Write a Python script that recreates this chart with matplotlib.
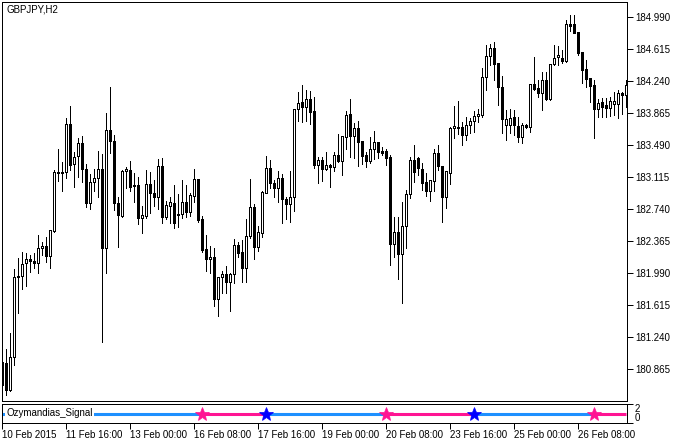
import numpy as np
import matplotlib.pyplot as plt

plt.rcParams['font.family'] = ['Liberation Sans', 'DejaVu Sans']

chart_title = 'GBPJPY,H2'
indicator_name = 'Ozymandias_Signal'

# GBPJPY H2 bars, oldest first
opens = [180.95, 180.94, 180.62, 181.01, 181.95, 181.96, 182.11, 182.16, 182.14, 182.11,
         182.29, 182.31, 182.20, 182.49, 183.17, 183.17, 183.18, 183.74, 183.27, 183.37,
         183.52, 183.21, 182.82, 183.06, 183.11, 183.21, 182.29, 183.67, 183.54, 182.82,
         182.66, 183.19, 183.20, 183.03, 183.03, 182.64, 182.66, 183.04, 182.93, 182.89,
         183.25, 182.65, 182.78, 182.82, 182.69, 182.69, 182.83, 182.71, 182.90, 183.10,
         182.63, 182.28, 182.16, 182.18, 181.69, 181.95, 181.98, 181.89, 181.98, 182.32,
         182.24, 182.05, 182.43, 182.77, 182.30, 182.46, 182.93, 183.23, 183.05, 182.99,
         183.11, 182.86, 182.80, 182.89, 183.92, 184.00, 183.94, 184.04, 183.89, 183.26,
         183.32, 183.21, 183.26, 183.24, 183.38, 183.31, 183.59, 183.86, 183.60, 183.70,
         183.54, 183.38, 183.31, 183.45, 183.53, 183.43, 183.43, 183.36, 182.34, 182.48,
         182.22, 182.55, 182.92, 183.32, 183.34, 183.22, 183.06, 182.96, 183.07, 183.40,
         183.25, 182.89, 183.17, 183.70, 183.71, 183.71, 183.61, 183.73, 183.78, 183.84,
         183.85, 184.29, 184.54, 184.63, 184.46, 184.18, 183.73, 183.73, 183.82, 183.72,
         183.59, 183.73, 183.71, 184.21, 184.16, 184.10, 184.26, 184.04, 184.45, 184.53,
         184.52, 184.48, 184.91, 184.91, 184.82, 184.58, 184.39, 184.28, 184.20, 183.92,
         184.00, 183.96, 183.93, 183.98, 183.98, 184.10, 184.08]
highs = [181.00, 181.11, 181.29, 182.04, 182.17, 182.24, 182.23, 182.21, 182.23, 182.44,
         182.36, 182.42, 182.50, 183.20, 183.45, 183.30, 183.81, 183.95, 183.41, 183.58,
         183.60, 183.27, 183.16, 183.21, 183.43, 183.39, 183.87, 184.18, 183.61, 182.89,
         183.20, 183.24, 183.31, 183.17, 183.12, 182.78, 183.20, 183.18, 183.09, 183.33,
         183.34, 182.84, 182.89, 183.03, 182.92, 183.09, 183.03, 182.93, 183.21, 183.10,
         182.66, 182.44, 182.31, 182.29, 181.95, 182.02, 182.08, 181.99, 182.39, 182.36,
         182.38, 182.63, 183.10, 182.80, 182.55, 182.96, 183.37, 183.32, 183.09, 183.19,
         183.16, 182.89, 183.19, 183.92, 184.12, 184.20, 184.14, 184.13, 184.06, 183.36,
         183.36, 183.41, 183.27, 183.41, 183.63, 183.60, 183.89, 184.04, 183.75, 183.78,
         183.54, 183.41, 183.59, 183.66, 183.53, 183.47, 183.45, 183.38, 182.65, 182.65,
         182.83, 182.97, 183.36, 183.50, 183.36, 183.29, 183.17, 183.09, 183.45, 183.50,
         183.25, 183.19, 183.71, 183.95, 184.01, 183.77, 183.82, 183.81, 183.89, 183.92,
         184.40, 184.67, 184.68, 184.70, 184.46, 184.30, 183.91, 183.92, 183.91, 183.82,
         183.75, 183.74, 184.21, 184.53, 184.26, 184.35, 184.35, 184.45, 184.67, 184.66,
         184.61, 184.96, 185.02, 185.02, 184.82, 184.58, 184.49, 184.28, 184.26, 184.04,
         184.05, 184.05, 184.06, 184.12, 184.14, 184.12, 184.26]
lows = [180.60, 180.57, 180.61, 180.92, 181.53, 181.81, 181.84, 182.01, 182.05, 182.00,
        182.21, 182.12, 182.05, 182.48, 183.07, 182.96, 183.11, 183.20, 183.00, 183.12,
        183.06, 182.77, 182.75, 182.96, 182.89, 181.19, 182.00, 183.40, 182.73, 182.30,
        182.65, 182.99, 182.96, 182.83, 182.57, 182.46, 182.64, 182.70, 182.78, 182.75,
        182.58, 182.63, 182.58, 182.52, 182.54, 182.64, 182.65, 182.66, 182.83, 182.59,
        182.24, 182.02, 182.00, 181.61, 181.49, 181.76, 181.76, 181.55, 181.88, 182.18,
        181.89, 181.89, 182.41, 182.16, 182.25, 182.42, 182.93, 182.99, 182.89, 182.83,
        182.58, 182.63, 182.59, 182.72, 183.78, 183.77, 183.78, 183.74, 183.23, 183.05,
        183.07, 183.20, 183.00, 183.19, 183.30, 183.14, 183.45, 183.36, 183.34, 183.25,
        183.27, 183.24, 183.29, 183.33, 183.34, 183.38, 183.26, 182.09, 182.18, 181.93,
        181.64, 182.29, 182.87, 183.06, 183.14, 182.97, 182.90, 182.84, 182.96, 183.20,
        182.59, 182.76, 183.04, 183.58, 183.63, 183.50, 183.55, 183.64, 183.65, 183.77,
        183.82, 184.14, 184.43, 184.26, 183.96, 183.64, 183.55, 183.64, 183.61, 183.53,
        183.52, 183.70, 183.65, 184.14, 184.06, 183.91, 184.02, 184.02, 184.43, 184.43,
        184.46, 184.47, 184.83, 184.81, 184.55, 184.22, 184.18, 184.00, 183.58, 183.82,
        183.82, 183.82, 183.84, 183.85, 183.81, 183.86, 183.94]
closes = [180.68, 180.62, 181.01, 181.95, 181.96, 182.10, 182.16, 182.14, 182.11, 182.29,
          182.31, 182.20, 182.50, 183.18, 183.18, 183.18, 183.74, 183.26, 183.36, 183.52,
          183.21, 182.82, 183.06, 183.11, 183.21, 182.29, 183.67, 183.54, 182.82, 182.68,
          183.19, 183.21, 183.00, 183.02, 182.64, 182.68, 183.04, 182.93, 182.89, 183.25,
          182.65, 182.79, 182.83, 182.58, 182.68, 182.83, 182.71, 182.91, 183.10, 182.62,
          182.27, 182.16, 182.18, 181.69, 181.95, 181.98, 181.89, 181.98, 182.32, 182.23,
          182.05, 182.43, 182.77, 182.30, 182.48, 182.95, 183.23, 183.05, 182.99, 183.11,
          182.86, 182.80, 182.89, 183.92, 183.99, 183.94, 184.04, 183.88, 183.26, 183.32,
          183.21, 183.26, 183.24, 183.38, 183.31, 183.60, 183.85, 183.60, 183.70, 183.53,
          183.37, 183.31, 183.45, 183.53, 183.41, 183.40, 183.34, 182.34, 182.48, 182.22,
          182.55, 182.92, 183.32, 183.18, 183.23, 183.05, 182.96, 183.09, 183.40, 183.25,
          182.89, 183.19, 183.70, 183.72, 183.70, 183.61, 183.73, 183.78, 183.84, 183.86,
          184.29, 184.54, 184.63, 184.45, 184.18, 183.80, 183.80, 183.81, 183.73, 183.59,
          183.73, 183.71, 184.21, 184.15, 184.10, 184.26, 184.04, 184.45, 184.52, 184.55,
          184.48, 184.91, 184.89, 184.81, 184.57, 184.37, 184.27, 184.19, 183.92, 183.99,
          183.94, 183.93, 184.01, 184.01, 184.10, 184.08, 184.20]

price_ticks = [184.990, 184.615, 184.240, 183.865, 183.490, 183.115,
               182.740, 182.365, 181.990, 181.615, 181.240, 180.865]
time_labels = ['10 Feb 2015', '11 Feb 16:00', '13 Feb 00:00', '16 Feb 08:00', '17 Feb 16:00',
               '19 Feb 00:00', '20 Feb 08:00', '23 Feb 16:00', '25 Feb 00:00', '26 Feb 08:00']
time_label_bars = [0, 16, 32, 48, 64, 80, 96, 112, 128, 144]

# signal: state at the first bar, then the bars where it flips
signal_first = 'buy'
signal_bars = [50, 66, 96, 118, 148]
signal_kinds = ['sell', 'buy', 'sell', 'buy', 'sell']

line_colors = {'buy': '#1E90FF', 'sell': '#FF1493'}
star_colors = {'buy': '#0000FF', 'sell': '#FF1493'}

W, H = 679, 443
fig = plt.figure(figsize=(W / 100, H / 100), dpi=100)
ax = fig.add_axes([2.3 / W, (H - 400.7) / H, 625 / W, 399 / H])
ax2 = fig.add_axes([2.3 / W, (H - 423.3) / H, 625 / W, 19.6 / H], sharex=ax)

o = np.array(opens)
c = np.array(closes)
x = np.arange(len(o))
up = c >= o
body_low = np.minimum(o, c)
body_h = np.abs(c - o)

# 1 px lines, no smoothing, like the terminal draws them
px = 0.72
ax.vlines(x, lows, highs, color='black', linewidth=px, zorder=1, antialiased=False)
ax.bar(x[up], body_h[up], bottom=body_low[up], width=0.5, color='white',
       edgecolor='black', linewidth=px, zorder=2, antialiased=False)
ax.bar(x[~up], body_h[~up], bottom=body_low[~up], width=0.5, color='black',
       edgecolor='black', linewidth=px, zorder=2, antialiased=False)

ax.set_xlim(-0.01, 156.24)
ax.set_ylim(180.499, 185.175)
ax.yaxis.tick_right()
ax.set_yticks(price_ticks)
ax.set_yticklabels(['%.3f' % p for p in price_ticks])
ax.tick_params(axis='y', direction='out', length=4, width=px, labelsize=7, pad=1.5)
ax.tick_params(axis='x', bottom=False, labelbottom=False)
ax.text(0.006, 0.993, chart_title, transform=ax.transAxes, ha='left', va='top', fontsize=7)

# indicator window
bounds = [0] + signal_bars + [len(o) - 1]
states = [signal_first] + signal_kinds
for i in range(len(states)):
    ax2.plot([bounds[i], bounds[i + 1]], [1, 1], color=line_colors[states[i]],
             linewidth=2.2, solid_capstyle='butt', zorder=2)
for b, k in zip(signal_bars, signal_kinds):
    ax2.plot(b, 1, marker='*', markersize=10, color=star_colors[k],
             markeredgewidth=0.5, zorder=3)
ax2.text(0.006, 0.5, indicator_name, transform=ax2.transAxes, ha='left', va='center',
         fontsize=7, zorder=4,
         bbox=dict(boxstyle='square,pad=0.12', fc='white', ec='none'))
ax2.set_ylim(0, 2)
ax2.yaxis.tick_right()
ax2.set_yticks([0, 2])
ax2.set_yticklabels(['0', '2'])
ylabs = ax2.get_yticklabels()
ylabs[0].set_va('bottom')
ylabs[1].set_va('top')
ax2.tick_params(axis='y', direction='out', length=4, width=px, labelsize=7, pad=1.5)
ax2.set_xticks(time_label_bars)
ax2.set_xticklabels(time_labels)
for t in ax2.get_xticklabels():
    t.set_ha('left')
ax2.tick_params(axis='x', direction='out', length=4, width=px, labelsize=7, pad=1)

for a in (ax, ax2):
    for s in a.spines.values():
        s.set_linewidth(px)

fig.savefig('out.png', dpi=100, facecolor='white')
